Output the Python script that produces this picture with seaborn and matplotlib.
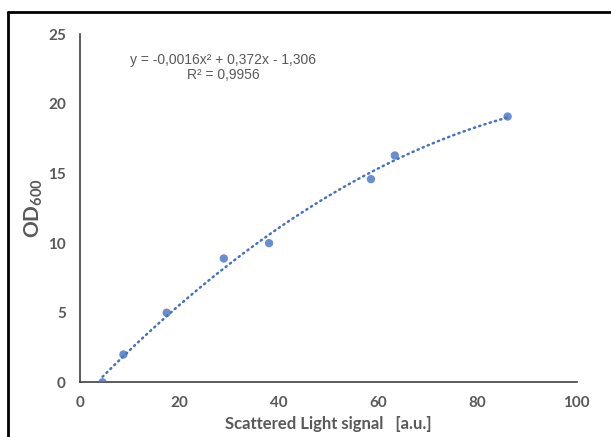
import numpy as np
import pandas as pd
import matplotlib
matplotlib.use("Agg")
import matplotlib.pyplot as plt
from matplotlib.lines import Line2D
import seaborn as sns

# Data
signal = [4.6, 8.8, 17.5, 29.0, 38.1, 58.6, 63.4, 86.1]
od600 = [0.0, 2.0, 5.0, 8.9, 10.0, 14.6, 16.3, 19.1]
x_ticks = [0, 20, 40, 60, 80, 100]
y_ticks = [0, 5, 10, 15, 20, 25]
equation_text = "y = -0,0016x² + 0,372x - 1,306"
r2_text = "R² = 0,9956"
x_label = "Scattered Light signal   [a.u.]"
y_label = r"OD$_{\mathbf{600}}$"

df = pd.DataFrame({"signal": signal, "od600": od600})

sns.set_theme(style="white")
plt.rcParams["font.family"] = ["Lato", "DejaVu Sans"]
plt.rcParams["mathtext.fontset"] = "custom"
plt.rcParams["mathtext.rm"] = "Lato"
plt.rcParams["mathtext.bf"] = "Lato:bold"

W, H = 611, 437
fig = plt.figure(figsize=(W / 100, H / 100), dpi=100)
ax = fig.add_axes([79.7 / W, 1 - 382.3 / H, (576.7 - 79.7) / W, (382.3 - 34.4) / H])

blue = "#4472C4"
grey = "#595959"
axis_c = "#404040"

sns.regplot(data=df, x="signal", y="od600", order=2, ci=None, truncate=True,
            ax=ax, scatter_kws=dict(s=36, color=blue, edgecolor="none", zorder=3),
            line_kws=dict(color=blue, lw=1.8, linestyle=(0, (0.5, 1.7)),
                          dash_capstyle="round", zorder=2))

ax.set_xlim(0, 100)
ax.set_ylim(0, 25)
ax.set_xticks(x_ticks)
ax.set_yticks(y_ticks)
sns.despine(ax=ax)
for s in ["left", "bottom"]:
    ax.spines[s].set_color(axis_c)
    ax.spines[s].set_linewidth(1.2)
ax.tick_params(axis="both", direction="out", length=5, width=1.2, color=axis_c,
               labelcolor=grey, labelsize=11, pad=5)
for lab in ax.get_xticklabels() + ax.get_yticklabels():
    lab.set_fontweight("bold")

ax.set_xlabel(x_label, fontsize=12, fontweight="bold", color=grey, labelpad=4)
ax.set_ylabel(y_label, fontsize=15, fontweight="bold", color=grey, labelpad=2)

fig.text(223.3 / W, 1 - 60 / H, equation_text, ha="center", va="center",
         fontsize=10, color=grey, family=["Liberation Sans", "DejaVu Sans"])
fig.text(223.3 / W, 1 - 75 / H, r2_text, ha="center", va="center",
         fontsize=10, color=grey, family=["Liberation Sans", "DejaVu Sans"])

# chart frame (top and left edges visible)
fig.add_artist(Line2D([8 / W, 1.01], [1 - 12 / H, 1 - 12 / H], color="black", lw=2,
                      transform=fig.transFigure))
fig.add_artist(Line2D([8 / W, 8 / W], [-0.01, 1 - 12 / H], color="black", lw=2,
                      transform=fig.transFigure))

fig.savefig("out.png", dpi=100)
